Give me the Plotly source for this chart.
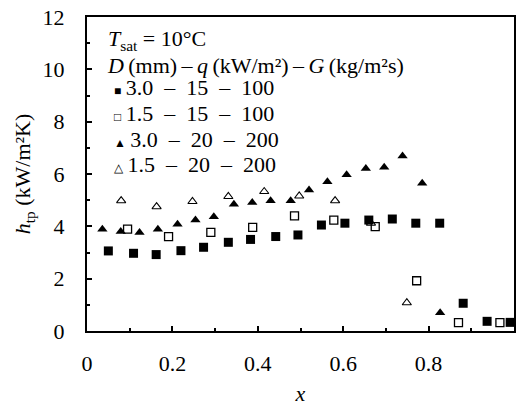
import plotly.graph_objects as go

# Series data (x = vapour quality, h_tp in kW/m²K)
x_30_15_100 = [0.050, 0.109, 0.162, 0.220, 0.273, 0.331, 0.383, 0.442, 0.494, 0.549,
               0.604, 0.660, 0.715, 0.770, 0.826, 0.881, 0.937, 0.991]
h_30_15_100 = [3.06, 2.97, 2.92, 3.07, 3.20, 3.39, 3.50, 3.61, 3.67, 4.05,
               4.12, 4.24, 4.28, 4.12, 4.12, 1.06, 0.37, 0.33]

x_15_15_100 = [0.095, 0.191, 0.290, 0.388, 0.486, 0.578, 0.675, 0.772, 0.870, 0.967]
h_15_15_100 = [3.89, 3.61, 3.77, 3.96, 4.40, 4.24, 3.99, 1.92, 0.32, 0.32]

x_30_20_200 = [0.036, 0.079, 0.123, 0.166, 0.212, 0.254, 0.297, 0.344, 0.387, 0.430,
               0.477, 0.520, 0.563, 0.608, 0.653, 0.696, 0.739, 0.785, 0.827]
h_30_20_200 = [3.89, 3.80, 3.76, 3.89, 4.08, 4.24, 4.37, 4.84, 4.91, 4.98,
               4.98, 5.39, 5.70, 5.97, 6.21, 6.26, 6.69, 5.65, 0.70]

x_15_20_200 = [0.080, 0.163, 0.247, 0.331, 0.415, 0.497, 0.581, 0.665, 0.749]
h_15_20_200 = [4.98, 4.75, 4.95, 5.14, 5.33, 5.16, 4.98, 4.12, 1.08]

series_names = ["3.0 \u2013 15 \u2013 100", "1.5 \u2013 15 \u2013 100",
                "3.0 \u2013 20 \u2013 200", "1.5 \u2013 20 \u2013 200"]
legend_glyphs = ["\u25a0", "\u25a1", "\u25b2", "\u25b3"]

x_ticks = [0, 0.2, 0.4, 0.6, 0.8, 1]
x_tick_labels = ["0", "0.2", "0.4", "0.6", "0.8", "1"]
y_ticks = [0, 2, 4, 6, 8, 10, 12]
y_tick_labels = ["0", "2", "4", "6", "8", "10", "12"]

FONT = "Liberation Serif, Tinos, Times New Roman, serif"
FS = 22

# plot-area geometry (pixels) used only to place the key text
L, R, T, B = 87, 514, 17, 331


def px_x(p):
    return (p - L) / (R - L)


def px_y(p):
    return (B - p) / (B - T)


fig = go.Figure()
fig.add_trace(go.Scatter(x=x_30_15_100, y=h_30_15_100, mode="markers", name=series_names[0],
                         marker=dict(symbol="square", size=9, color="black")))
fig.add_trace(go.Scatter(x=x_15_15_100, y=h_15_15_100, mode="markers", name=series_names[1],
                         marker=dict(symbol="square-open", size=8, color="black",
                                     line=dict(width=1.3, color="black"))))
fig.add_trace(go.Scatter(x=x_30_20_200, y=h_30_20_200, mode="markers", name=series_names[2],
                         marker=dict(symbol="triangle-up", size=9, color="black")))
fig.add_trace(go.Scatter(x=x_15_20_200, y=h_15_20_200, mode="markers", name=series_names[3],
                         marker=dict(symbol="triangle-up-open", size=8, color="black",
                                     line=dict(width=1.1, color="black"))))

tfont = dict(family=FONT, size=FS, color="black")

annotations = [
    dict(xref="paper", yref="paper", x=px_x(106), y=px_y(40), xanchor="left", yanchor="middle",
         showarrow=False, align="left",
         text="<i>T</i><sub>sat</sub> = 10\u00b0C", font=tfont),
    dict(xref="paper", yref="paper", x=px_x(105), y=px_y(66), xanchor="left", yanchor="middle",
         showarrow=False, align="left",
         text="<i>D</i>\u2009(mm)\u2009\u2013\u2009<i>q</i>\u2009(kW/m\u00b2)\u2009\u2013\u2009<i>G</i>\u2009(kg/m\u00b2s)",
         font=tfont),
]
row_y = [88, 113.5, 139, 164.5]
for g, name, yy in zip(legend_glyphs, series_names, row_y):
    label = name.replace(" ", "\u2002")
    annotations.append(dict(
        xref="paper", yref="paper", x=px_x(112), y=px_y(yy), xanchor="left", yanchor="middle",
        showarrow=False, align="left",
        text='<span style="font-size:12px">' + g + '</span>\u2009' + label,
        font=tfont))

fig.update_layout(
    width=519, height=406,
    margin=dict(l=L, r=519 - R, t=T, b=406 - B),
    paper_bgcolor="white", plot_bgcolor="white",
    font=tfont,
    showlegend=False,
    xaxis=dict(range=[0, 1], tickvals=x_ticks, ticktext=x_tick_labels,
               ticks="inside", ticklen=5, tickwidth=1.5, tickcolor="black",
               minor=dict(dtick=0.1, ticks="inside", ticklen=3, tickwidth=1.5, tickcolor="black"),
               showgrid=False, zeroline=False, automargin=False,
               showline=True, linewidth=2, linecolor="black", mirror=True,
               tickfont=tfont,
               ticklabelstandoff=12,
               title=dict(text="<i>x</i>", font=tfont, standoff=25)),
    yaxis=dict(range=[0, 12], tickvals=y_ticks, ticktext=y_tick_labels,
               ticks="inside", ticklen=5, tickwidth=1.5, tickcolor="black",
               minor=dict(dtick=1, ticks="inside", ticklen=3, tickwidth=1.5, tickcolor="black"),
               showgrid=False, zeroline=False, automargin=False,
               showline=True, linewidth=2, linecolor="black", mirror=True,
               tickfont=tfont,
               ticklabelstandoff=16,
               title=dict(text="<i>h</i><sub>tp</sub> (kW/m\u00b2K)", font=tfont, standoff=6)),
    annotations=annotations,
)

fig.write_html("out.html", post_script="document.body.style.margin='0';",
               config={"displayModeBar": False})
